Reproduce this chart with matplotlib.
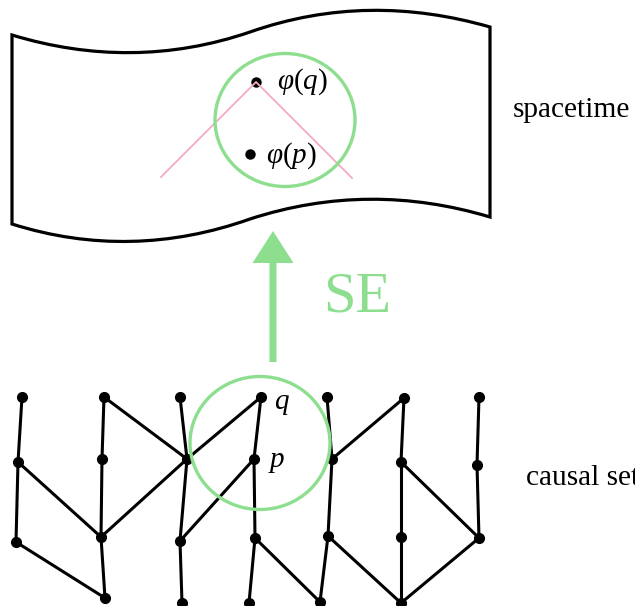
import matplotlib
matplotlib.use("Agg")
import matplotlib.pyplot as plt
from matplotlib.patches import Ellipse, PathPatch, FancyArrow
from matplotlib.path import Path

# causal set nodes (pixel coords of the picture)
node_x = [22, 104, 180, 261, 327, 404, 479,
          18, 102, 187, 254, 332, 401, 477,
          16, 101, 180, 255, 328, 401, 479,
          105, 182, 249, 320, 401]
node_y = [397, 397, 397, 397, 397, 398, 397,
          462, 459, 459, 459, 459, 462, 465,
          542, 537, 541, 538, 536, 537, 538,
          598, 603, 603, 602, 603]

# links between nodes (indices into the lists above)
edges = [
    (0, 7), (7, 14), (7, 15), (14, 21),
    (1, 8), (1, 9), (8, 15), (15, 21), (15, 9), (9, 3),
    (2, 9), (9, 16), (16, 22), (16, 10),
    (3, 10), (10, 17), (17, 23), (17, 24),
    (4, 11), (11, 18), (18, 24), (11, 5), (18, 25),
    (5, 12), (12, 19), (19, 25), (12, 20),
    (6, 13), (13, 20), (20, 25),
]

# wavy spacetime sheet outline
sheet_top = [(12, 35), (91, 59), (171, 59), (250, 32), (330, 4), (410, 4), (490, 27)]
sheet_bottom = [(12, 224), (91, 249), (171, 247), (250, 219), (330, 193), (410, 193), (490, 217)]

phi_q = (256, 82)
phi_p = (250, 154)
cone_left = (161, 177)
cone_right = (352, 178)

GREEN = "#8ddf8f"
PINK = "#f5a9c3"
SERIF = "Liberation Serif"

plt.rcParams["mathtext.fontset"] = "custom"
plt.rcParams["mathtext.rm"] = "Liberation Serif"
plt.rcParams["mathtext.it"] = "Liberation Serif:italic"

fig = plt.figure(figsize=(6.35, 6.06), dpi=100)
ax = fig.add_axes([0, 0, 1, 1])
ax.set_xlim(0, 635)
ax.set_ylim(606, 0)
ax.axis("off")

# sheet
verts = sheet_top + list(reversed(sheet_bottom)) + [sheet_top[0]]
codes = ([Path.MOVETO] + [Path.CURVE4] * 6 + [Path.LINETO]
         + [Path.CURVE4] * 6 + [Path.CLOSEPOLY])
ax.add_patch(PathPatch(Path(verts, codes), facecolor="white",
                       edgecolor="black", lw=2.3, joinstyle="miter"))

# light cone and points
ax.plot([cone_left[0], phi_q[0], cone_right[0]],
        [cone_left[1], phi_q[1], cone_right[1]], color=PINK, lw=1.3, zorder=3)
ax.plot(*phi_q, "o", color="black", ms=6.5, zorder=2)
ax.plot(*phi_p, "o", color="black", ms=6.5, zorder=4)
ax.add_patch(Ellipse((285, 120), 140, 133, fill=False, edgecolor=GREEN, lw=2.4, zorder=3))
ax.text(277, 82, r"$\varphi(q)$", fontsize=21, va="center")
ax.text(266, 156, r"$\varphi(p)$", fontsize=21, va="center")
ax.text(513, 110, "spacetime", fontsize=21.2, family=SERIF, va="center")

# SE arrow
ax.add_patch(FancyArrow(273, 362, 0, -131, width=7, head_width=41, head_length=32,
                        length_includes_head=True, color=GREEN, lw=0))
ax.text(357, 298, "SE", fontsize=42, family=SERIF, color=GREEN, ha="center", va="center")

# causal set
for a, b in edges:
    ax.plot([node_x[a], node_x[b]], [node_y[a], node_y[b]], color="black", lw=2.2, zorder=2)
ax.plot(node_x, node_y, "o", color="black", ms=7, ls="none", zorder=3)
ax.add_patch(Ellipse((260, 443), 140, 133, fill=False, edgecolor=GREEN, lw=2.4, zorder=4))
ax.text(274, 402, "q", fontsize=21, family=SERIF, style="italic", va="center")
ax.text(270, 460, "p", fontsize=21, family=SERIF, style="italic", va="center")
ax.text(526, 478, "causal set", fontsize=21.2, family=SERIF, va="center")

fig.savefig("out.png", dpi=100, facecolor="white")
